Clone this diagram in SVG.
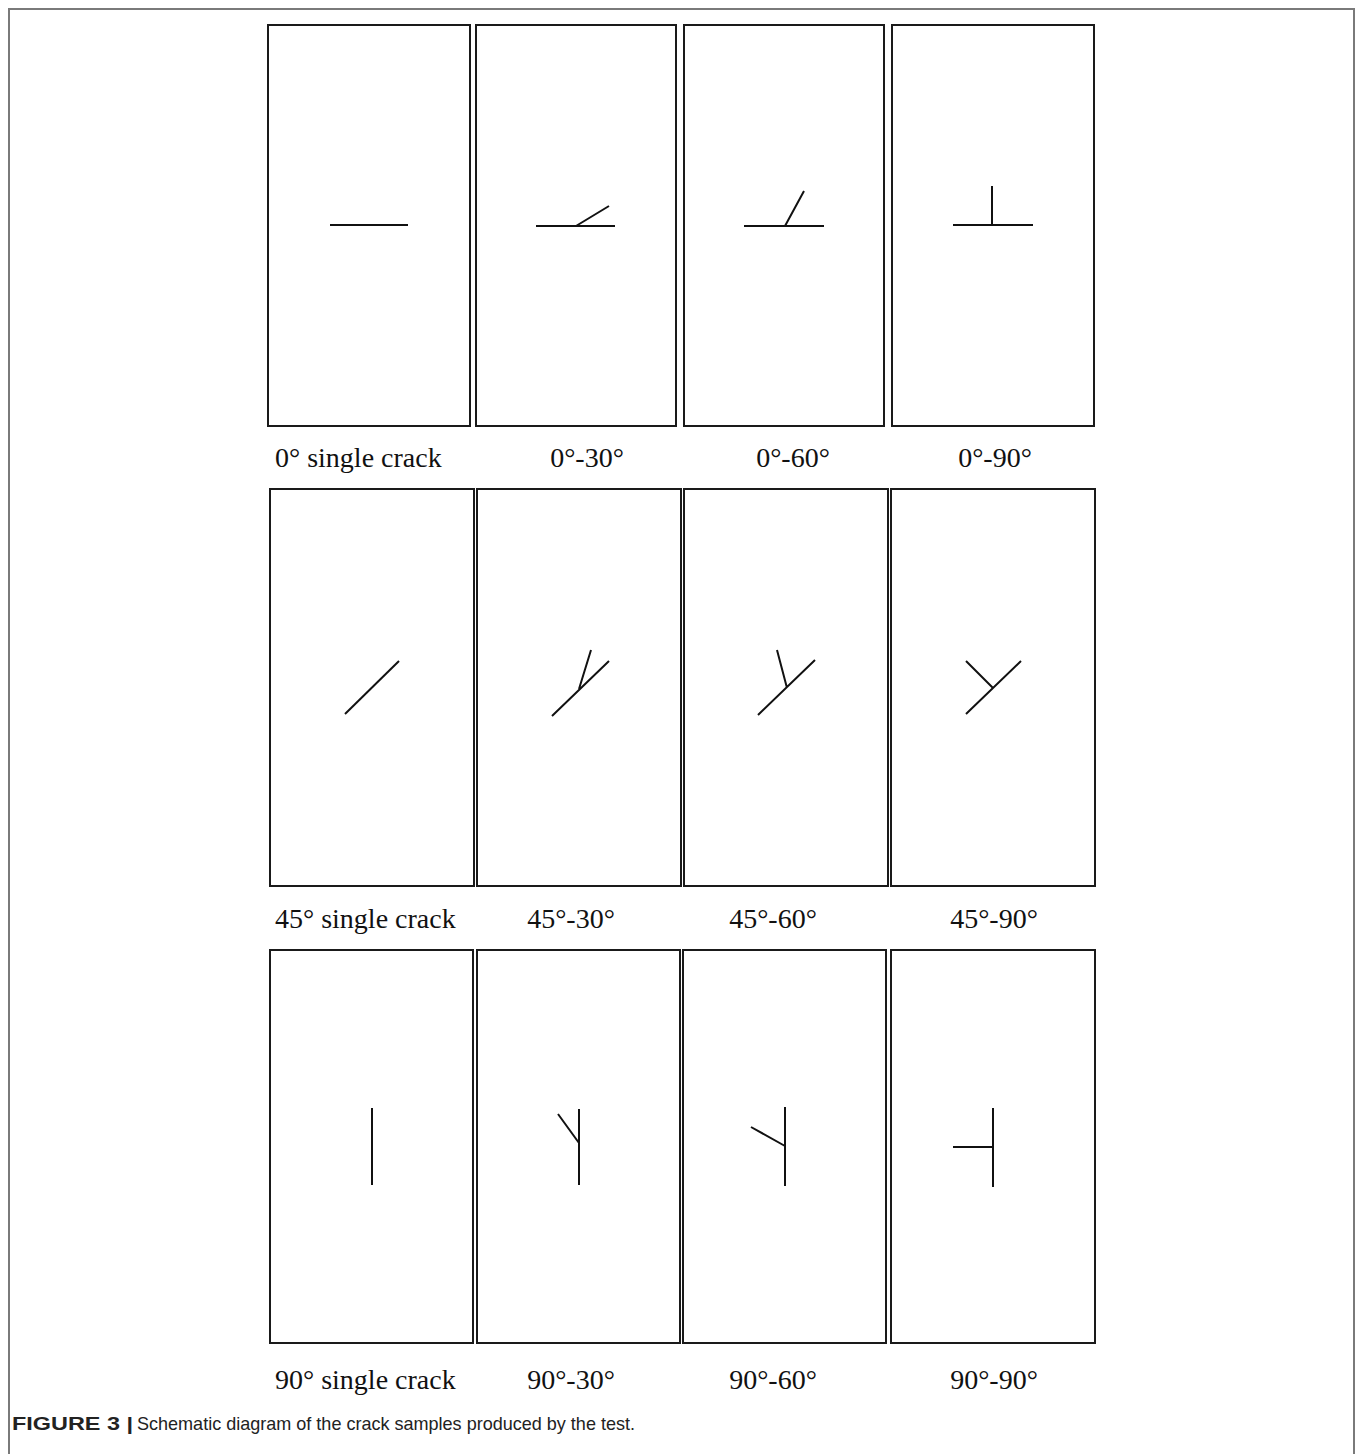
<svg xmlns="http://www.w3.org/2000/svg" width="1355" height="1454" viewBox="0 0 1355 1454">
<style>
.frame{fill:none;stroke:#7a7a7a;stroke-width:2}
.box{fill:#fff;stroke:#1a1a1a;stroke-width:2}
.crack{fill:none;stroke:#111;stroke-width:2;stroke-linecap:butt}
.lbl{font-family:"Liberation Serif","Times New Roman",serif;font-size:28px;fill:#111}
.cap{font-family:"Liberation Sans",Arial,sans-serif;font-size:19px;fill:#222}
</style>
<rect width="1355" height="1454" fill="#fff"/>
<path class="frame" d="M9,1454 V9 H1354 V1454"/>
<g id="s-0-single">
<rect class="box" x="268" y="25" width="202" height="401"/>
<path class="crack" d="M330,225 H408"/>
<text class="lbl" x="275" y="467">0° single crack</text>
</g>
<g id="s-0-30">
<rect class="box" x="476" y="25" width="200" height="401"/>
<path class="crack" d="M536,226 H615 M576,226 L609,206"/>
<text class="lbl" x="587" y="467" text-anchor="middle">0°-30°</text>
</g>
<g id="s-0-60">
<rect class="box" x="684" y="25" width="200" height="401"/>
<path class="crack" d="M744,226 H824 M785,226 L804,191"/>
<text class="lbl" x="793" y="467" text-anchor="middle">0°-60°</text>
</g>
<g id="s-0-90">
<rect class="box" x="892" y="25" width="202" height="401"/>
<path class="crack" d="M953,225 H1033 M992,225 V186"/>
<text class="lbl" x="995" y="467" text-anchor="middle">0°-90°</text>
</g>
<g id="s-45-single">
<rect class="box" x="270" y="489" width="204" height="397"/>
<path class="crack" d="M345,714 L399,661"/>
<text class="lbl" x="275" y="928">45° single crack</text>
</g>
<g id="s-45-30">
<rect class="box" x="477" y="489" width="204" height="397"/>
<path class="crack" d="M552,716 L609,661 M579,689 L591,650"/>
<text class="lbl" x="571" y="928" text-anchor="middle">45°-30°</text>
</g>
<g id="s-45-60">
<rect class="box" x="684" y="489" width="204" height="397"/>
<path class="crack" d="M758,715 L815,660 M787,688 L777,650"/>
<text class="lbl" x="773" y="928" text-anchor="middle">45°-60°</text>
</g>
<g id="s-45-90">
<rect class="box" x="891" y="489" width="204" height="397"/>
<path class="crack" d="M966,714 L1021,661 M993,688 L966,661"/>
<text class="lbl" x="994" y="928" text-anchor="middle">45°-90°</text>
</g>
<g id="s-90-single">
<rect class="box" x="270" y="950" width="203" height="393"/>
<path class="crack" d="M372,1108 V1185"/>
<text class="lbl" x="275" y="1389">90° single crack</text>
</g>
<g id="s-90-30">
<rect class="box" x="477" y="950" width="203" height="393"/>
<path class="crack" d="M579,1109 V1185 M579,1143 L558,1114"/>
<text class="lbl" x="571" y="1389" text-anchor="middle">90°-30°</text>
</g>
<g id="s-90-60">
<rect class="box" x="683" y="950" width="203" height="393"/>
<path class="crack" d="M785,1107 V1186 M785,1146 L751,1127"/>
<text class="lbl" x="773" y="1389" text-anchor="middle">90°-60°</text>
</g>
<g id="s-90-90">
<rect class="box" x="891" y="950" width="204" height="393"/>
<path class="crack" d="M993,1108 V1187 M953,1147 H993"/>
<text class="lbl" x="994" y="1389" text-anchor="middle">90°-90°</text>
</g>
<g id="caption">
<text class="cap" x="12" y="1430" font-weight="bold" textLength="121" lengthAdjust="spacingAndGlyphs">FIGURE 3 |</text>
<text class="cap" x="137" y="1430" textLength="498" lengthAdjust="spacingAndGlyphs">Schematic diagram of the crack samples produced by the test.</text>
</g>
</svg>
